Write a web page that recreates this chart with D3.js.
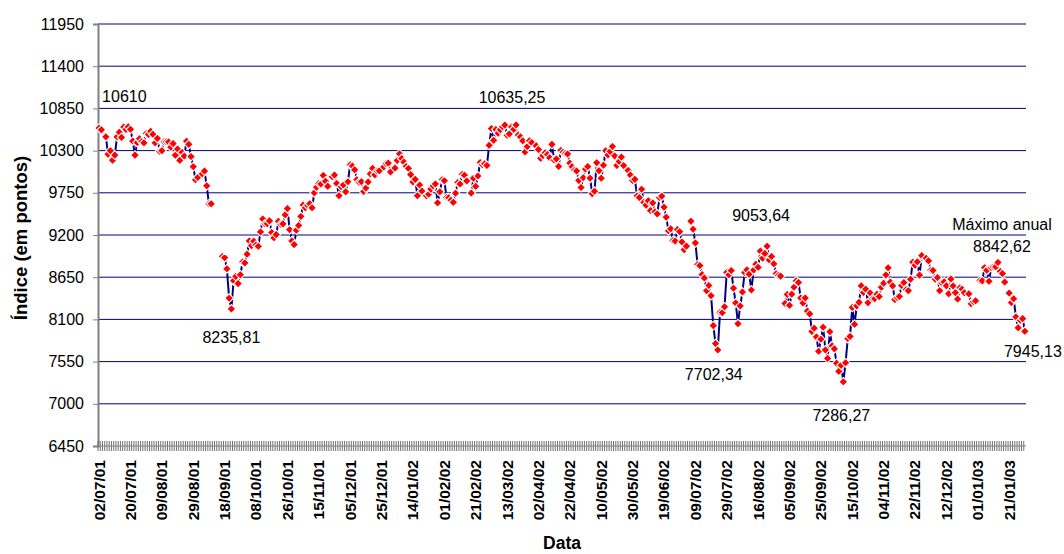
<!DOCTYPE html>
<html>
<head>
<meta charset="utf-8">
<script src="https://cdn.jsdelivr.net/npm/d3@7"></script>
<style>
	body { margin: 0; background: #fff; }
	svg text { font-family: "Liberation Sans", Arial, sans-serif; fill: #000; }
</style>
</head>
<body>
<svg id="chart" width="1064" height="554"></svg>
<script>

// daily closes, one array per month, null = no trading that day
var jul01 = [10593, 10571, null, 10480, 10253, 10299, 10176, 10241, 10480, 10539, 10472, 10607, 10576, 10610, 10577, 10424, 10241, 10405, 10455, 10416, 10401, 10523];
var aug01 = [10510, 10551, 10512, 10401, 10458, 10291, 10299, 10416, 10415, 10413, 10345, 10392, 10240, 10320, 10174, 10276, 10229, 10423, 10382, 10222, 10090, 9919, 9950];
var sep01 = [null, 9997, 10033, 9841, 9606, 9606, null, null, null, null, 8921, 8904, 8759, 8377, 8236, 8604, 8660, 8567, 8681, 8848];
var oct01 = [8836, 8950, 9123, 9061, 9120, 9068, 9052, 9240, 9410, 9345, 9347, 9384, 9232, 9163, 9205, 9378, 9341, 9345, 9463, 9545, 9269, 9122, 9075];
var nov01 = [9263, 9324, 9442, 9591, 9554, 9588, 9608, 9554, 9750, 9823, 9872, 9866, 9976, 9901, 9835, null, 9960, 9982, 9872, 9712, 9830, 9852];
var dec01 = [9763, 9894, 10114, 10099, 10049, 9921, 9888, 9895, 9767, 9812, 9892, 9998, 10070, 9985, 10035, 10036, null, 10088, 10132, 10137, 10022];
var jan02 = [null, 10073, 10172, 10259, 10197, 10150, 10094, 10068, 9987, 9891, 9925, 9712, 9851, 9772, null, 9713, 9731, 9797, 9841, 9866, 9619, 9763, 9920];
var feb02 = [9908, 9688, 9686, 9654, 9626, 9745, 9884, 9864, 9990, 9980, 9904, null, 9746, 9941, 9834, 9969, 10145, 10116, 10128, 10106];
var mar02 = [10369, 10587, 10434, 10575, 10526, 10572, 10612, 10632, 10501, 10517, 10608, 10578, 10635, 10502, 10479, 10428, 10282, 10353, 10427, 10404, null];
var apr02 = [10362, 10314, 10199, 10235, 10271, 10249, 10208, 10381, 10177, 10191, 10094, 10302, 10277, 10262, 10257, 10137, 10090, 10044, 10035, 9911, 9819, 9946];
var may02 = [10059, 10092, 9940, 9739, 9771, 10142, 10038, 9940, 10110, 10298, 10244, 10289, 10354, 10230, 10106, 10158, 10216, 10105, null, 10041, 9982, 9912, 9925];
var jun02 = [9709, 9688, 9797, 9624, 9589, 9646, 9518, 9618, 9502, 9475, 9688, 9706, 9562, 9432, 9254, 9281, 9127, 9121, 9270, 9243];
var jul02 = [9109, 9008, 9055, null, 9380, 9275, 9097, 8814, 8802, 8685, 8639, 8474, 8542, 8409, 8019, 7785, 7702, 8191, 8187, 8264, 8712, 8681, 8737];
var aug02 = [8507, 8314, 8044, 8275, 8457, 8713, 8746, 8689, 8483, 8744, 8819, 8779, 8991, 8898, 8958, 9054, 8873, 8920, 8825, 8695, 8671, 8664];
var sep02 = [null, 8308, 8426, 8284, 8428, 8520, 8602, 8582, 8380, 8313, 8380, 8208, 8172, 7943, 7986, 7872, 7684, 7842, 7998, 7702, 7592];
var oct02 = [7939, 7756, 7717, 7529, 7423, 7502, 7286, 7534, 7851, 7878, 8256, 8036, 8275, 8322, 8538, 8451, 8494, 8318, 8444, 8368, 8369, 8427, 8397];
var nov02 = [8518, 8571, 8679, 8772, 8587, 8537, 8359, 8387, 8399, 8542, 8580, 8487, 8474, 8624, 8846, 8805, 8850, 8677, 8932, null, 8896];
var dec02 = [8863, 8743, 8738, 8624, 8646, 8474, 8575, 8589, 8538, 8434, 8628, 8536, 8448, 8365, 8512, 8494, 8448, null, 8433, 8304, 8332, 8342];
var jan03 = [null, 8608, 8602, 8774, 8740, 8596, 8777, 8785, 8786, 8843, 8724, 8697, 8587, null, 8443, 8319, 8369, 8132, 7990, 8089, 8110, 7945];

var tickLabels = ["02/07/01", "20/07/01", "09/08/01", "29/08/01", "18/09/01", "08/10/01", "26/10/01", "15/11/01",
	"05/12/01", "25/12/01", "14/01/02", "01/02/02", "21/02/02", "13/03/02", "02/04/02", "22/04/02", "10/05/02",
	"30/05/02", "19/06/02", "09/07/02", "29/07/02", "16/08/02", "05/09/02", "25/09/02", "15/10/02", "04/11/02",
	"22/11/02", "12/12/02", "01/01/03", "21/01/03"];

var yTicks = [6450, 7000, 7550, 8100, 8650, 9200, 9750, 10300, 10850, 11400, 11950];

var notes = [
	{date: "02/07/01", text: "10610"},
	{date: "19/03/02", text: "10635,25"},
	{date: "21/09/01", text: "8235,81"},
	{date: "22/08/02", text: "9053,64"},
	{date: "14/01/03", text: "Máximo anual"},
	{date: "14/01/03", text: "8842,62"},
	{date: "23/07/02", text: "7702,34"},
	{date: "09/10/02", text: "7286,27"},
	{date: "30/01/03", text: "7945,13"}
];

// every weekday is a category, holidays stay as empty slots
var fmt = d3.timeFormat("%d/%m/%y");
var categories = d3.timeDay.range(new Date(2001, 6, 2), new Date(2003, 0, 31))
	.filter(function(d) { return d.getDay() > 0 && d.getDay() < 6; })
	.map(fmt);

var closes = [].concat(jul01, aug01, sep01, oct01, nov01, dec01, jan02, feb02, mar02, apr02,
	may02, jun02, jul02, aug02, sep02, oct02, nov02, dec02, jan03);

var data = categories.map(function(c, i) { return {key: c, value: closes[i]}; });

render("#chart", data);

function render(element, data) {

	var left = 98, right = 1026, top = 24, bottom = 446;

	var svg = d3.select(element);

	var x = d3.scaleBand()
		.domain(data.map(function(d) { return d.key; }))
		.range([left, right])
		.padding(0);

	var y = d3.scaleLinear()
		.domain([6450, 11950])
		.range([bottom, top]);

	var cx = function(key) { return x(key) + x.bandwidth() / 2; };

	// grid
	svg.append("g")
		.selectAll("line")
		.data(yTicks.slice(1))
		.enter()
		.append("line")
		.attr("x1", left)
		.attr("x2", right)
		.attr("y1", function(d) { return y(d); })
		.attr("y2", function(d) { return y(d); })
		.attr("stroke", "#000080")
		.attr("stroke-width", 1);

	// y axis
	var yAxis = svg.append("g")
		.attr("transform", "translate(" + left + ",0)")
		.call(d3.axisLeft(y).tickValues(yTicks).tickSize(5).tickPadding(9).tickFormat(d3.format("d")));
	yAxis.select(".domain").attr("stroke", "#808080").attr("stroke-width", 2);
	yAxis.selectAll(".tick line").attr("stroke", "#808080");
	yAxis.selectAll("text").style("font-size", "16px");

	// dense category ticks on the x axis, one per day
	var dayTicks = svg.append("g")
		.attr("transform", "translate(" + (-x.bandwidth() / 2) + "," + bottom + ")")
		.call(d3.axisBottom(x).tickSizeOuter(0).tickFormat(""));
	dayTicks.select(".domain").remove();
	dayTicks.selectAll(".tick line")
		.attr("y1", -5)
		.attr("y2", 5)
		.attr("stroke", "#707070");

	svg.append("line")
		.attr("x1", left).attr("x2", right)
		.attr("y1", bottom).attr("y2", bottom)
		.attr("stroke", "#808080");

	var xAxis = svg.append("g")
		.attr("transform", "translate(0," + bottom + ")")
		.call(d3.axisBottom(x).tickValues(tickLabels).tickSize(0));
	xAxis.select(".domain").remove();
	xAxis.selectAll("text")
		.attr("transform", "rotate(-90)")
		.attr("text-anchor", "end")
		.attr("x", -14)
		.attr("y", 0)
		.attr("dy", "0.35em")
		.style("font-size", "15.5px")
		.style("font-weight", "bold");

	// series
	var line = d3.line()
		.defined(function(d) { return d.value != null; })
		.x(function(d) { return cx(d.key); })
		.y(function(d) { return y(d.value); });

	svg.append("path")
		.datum(data)
		.attr("d", line)
		.attr("fill", "none")
		.attr("stroke", "#000080")
		.attr("stroke-width", 2);

	var r = 4.4;
	svg.append("g")
		.selectAll("path")
		.data(data.filter(function(d) { return d.value != null; }))
		.enter()
		.append("path")
		.attr("transform", function(d) { return "translate(" + cx(d.key) + "," + y(d.value) + ")"; })
		.attr("d", "M0," + (-r) + "L" + r + ",0L0," + r + "L" + (-r) + ",0Z")
		.attr("fill", "#ff0000")
		.attr("stroke", "#ffffff")
		.attr("stroke-width", 1.1);

	// labels next to the marked points
	var noteOffsets = {
		"10610": {dx: 3, dy: -26, anchor: "start"},
		"10635,25": {dx: -4, dy: -22, anchor: "middle"},
		"8235,81": {dx: 0, dy: 34, anchor: "middle"},
		"9053,64": {dx: -6, dy: -25.5, anchor: "middle"},
		"Máximo anual": {dx: 4, dy: -32.4, anchor: "middle"},
		"8842,62": {dx: 4, dy: -10.7, anchor: "middle"},
		"7702,34": {dx: -4, dy: 30, anchor: "middle"},
		"7286,27": {dx: -2, dy: 39, anchor: "middle"},
		"7945,13": {dx: 8, dy: 25.4, anchor: "middle"}
	};

	var byKey = {};
	data.forEach(function(d) { byKey[d.key] = d; });

	svg.append("g")
		.selectAll("text")
		.data(notes)
		.enter()
		.append("text")
		.attr("x", function(d) { return cx(d.date) + noteOffsets[d.text].dx; })
		.attr("y", function(d) { return y(byKey[d.date].value) + noteOffsets[d.text].dy; })
		.attr("text-anchor", function(d) { return noteOffsets[d.text].anchor; })
		.style("font-size", "16px")
		.text(function(d) { return d.text; });

	// axis titles
	svg.append("text")
		.attr("x", (left + right) / 2)
		.attr("y", 549)
		.attr("text-anchor", "middle")
		.style("font-size", "17.5px")
		.style("font-weight", "bold")
		.text("Data");

	svg.append("text")
		.attr("transform", "translate(27," + ((top + bottom) / 2 + 3) + ") rotate(-90)")
		.attr("text-anchor", "middle")
		.style("font-size", "18.5px")
		.style("font-weight", "bold")
		.text("Índice (em pontos)");

}

</script>
</body>
</html>
